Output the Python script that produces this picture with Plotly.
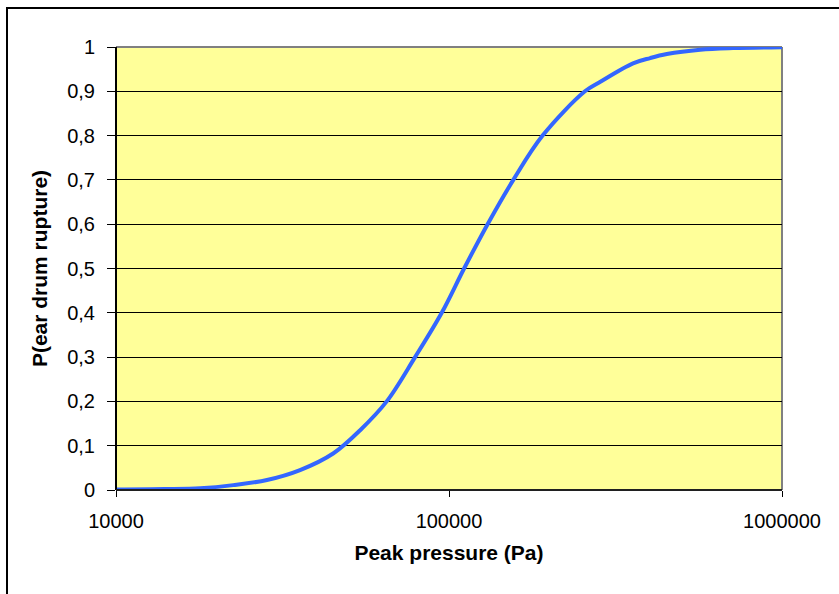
import plotly.graph_objects as go

# Peak overpressure (Pa) and probability of ear drum rupture
pressure_pa = [10000, 14000, 17900, 22500, 28400, 35700, 45000, 54100, 65000,
               79100, 95100, 111000, 130600, 156000, 191000, 256000, 284000,
               357000, 402000, 451000, 568000, 713000, 1000000]
p_rupture = [0.001, 0.002, 0.004, 0.011, 0.0226, 0.045, 0.083, 0.135, 0.2,
             0.3, 0.4, 0.5, 0.6, 0.7, 0.8, 0.9, 0.921,
             0.963, 0.975, 0.984, 0.9938, 0.9975, 0.9995]

x_ticks = [10000, 100000, 1000000]
x_tick_labels = ["10000", "100000", "1000000"]
y_ticks = [0, 0.1, 0.2, 0.3, 0.4, 0.5, 0.6, 0.7, 0.8, 0.9, 1]
y_tick_labels = ["0", "0,1", "0,2", "0,3", "0,4", "0,5", "0,6", "0,7", "0,8", "0,9", "1"]

FONT = "Liberation Sans, Arial, sans-serif"

fig = go.Figure()
fig.add_trace(go.Scatter(
    x=pressure_pa, y=p_rupture, mode="lines",
    line=dict(color="#3366FF", width=4, shape="spline", smoothing=1.0),
    hoverinfo="x+y", showlegend=False,
))

fig.update_layout(
    width=839, height=594,
    margin=dict(l=116, r=57, t=47, b=104),
    paper_bgcolor="white",
    plot_bgcolor="#FFFF99",
    font=dict(family=FONT, size=20, color="black"),
    xaxis=dict(
        type="log", range=[4, 6],
        tickvals=x_ticks, ticktext=x_tick_labels,
        ticks="outside", ticklen=6, tickwidth=1, tickcolor="black",
        showgrid=False, zeroline=False, showline=False,
        ticklabelstandoff=7,
        title=dict(text="<b>Peak pressure (Pa)</b>", font=dict(size=21), standoff=14),
    ),
    yaxis=dict(
        range=[0, 1],
        tickvals=y_ticks, ticktext=y_tick_labels,
        ticks="outside", ticklen=8, tickwidth=1, tickcolor="black",
        showgrid=True, gridcolor="black", gridwidth=1,
        zeroline=False, showline=False,
        ticklabelstandoff=8,
        title=dict(text="<b>P(ear drum rupture)</b>", font=dict(size=21), standoff=13),
    ),
    shapes=[
        # plot area frame: grey top/right, black left/bottom
        dict(type="line", xref="paper", yref="paper", x0=0, x1=1, y0=1, y1=1,
             line=dict(color="#808080", width=2), layer="below"),
        dict(type="line", xref="paper", yref="paper", x0=1, x1=1, y0=0, y1=1,
             line=dict(color="#808080", width=2), layer="below"),
        dict(type="line", xref="paper", yref="paper", x0=0, x1=0, y0=0, y1=1,
             line=dict(color="black", width=2)),
        dict(type="line", xref="paper", yref="paper", x0=0, x1=1, y0=0, y1=0,
             line=dict(color="#202020", width=2)),
        # outer chart border
        dict(type="rect", xref="paper", yref="paper",
             x0=(7 - 116) / 666, x1=(860 - 116) / 666,
             y0=(490 - 620) / 443, y1=(490 - 8) / 443,
             line=dict(color="black", width=2), fillcolor="rgba(0,0,0,0)"),
    ],
)

fig.write_html("out.html")
